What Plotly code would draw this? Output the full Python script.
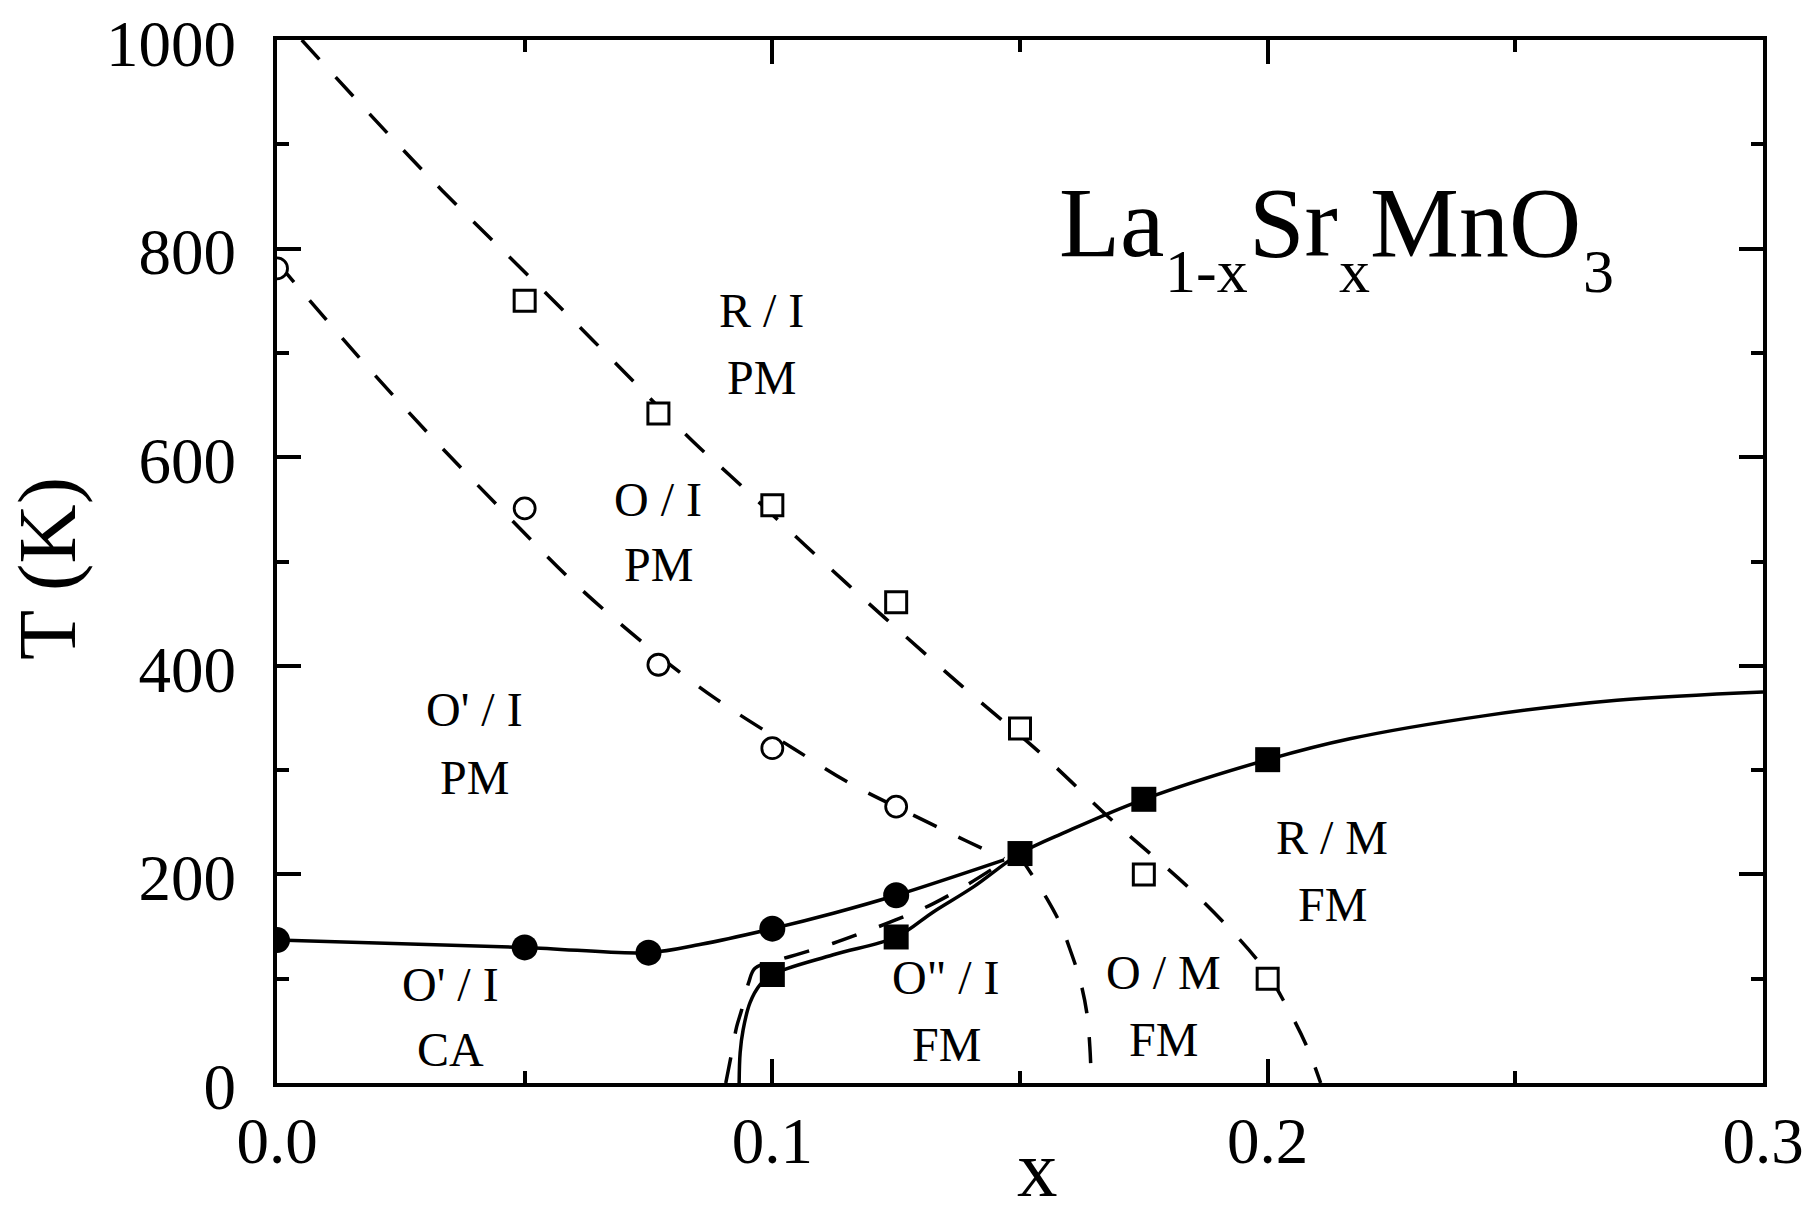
import plotly.graph_objects as go

# ---------------- data ----------------
# measured points
x_open_sq = [0.05, 0.077, 0.1, 0.125, 0.15, 0.175, 0.2]
T_open_sq = [750, 642, 554, 461, 340, 200, 100]
x_open_ci = [0.0, 0.05, 0.077, 0.1, 0.125]
T_open_ci = [781, 551, 401, 321, 265]
x_fill_ci = [0.0, 0.05, 0.075, 0.1, 0.125]
T_fill_ci = [137, 130, 125, 148, 180]
x_fill_sq = [0.1, 0.125, 0.15, 0.175, 0.2]
T_fill_sq = [104, 140, 220, 272, 310]

# phase boundaries
x_RO = [0.005, 0.0304, 0.0533, 0.0688, 0.0842, 0.0916, 0.115, 0.1384, 0.1542,
        0.169, 0.185, 0.1989, 0.204, 0.208, 0.2107]
T_RO = [1000, 870, 762, 688, 614, 582, 479, 380, 316, 250, 183, 112, 72, 34, 0]

x_OOp = [0.0, 0.0167, 0.0309, 0.0459, 0.0608, 0.077, 0.0887, 0.1045, 0.1158,
         0.1275, 0.1392, 0.1468]
T_OOp = [787, 695, 621, 547, 476, 410, 368, 320, 287, 259, 232, 215]

x_OOp_low = [0.1495, 0.1514, 0.1554, 0.1581, 0.1601, 0.1621, 0.1635, 0.1641, 0.1644]
T_OOp_low = [220, 207, 177, 153, 128, 99, 67, 35, 0]

x_CA = [0.0, 0.05, 0.075, 0.0856, 0.1, 0.1125, 0.125, 0.1468]
T_CA = [137, 130, 125, 133, 148, 163, 180, 214]

x_FM = [0.0933, 0.0935, 0.0941, 0.0955, 0.0975, 0.1, 0.1123, 0.125, 0.1325,
        0.1406, 0.15, 0.1594, 0.175, 0.2, 0.2166, 0.2436, 0.2705, 0.3]
T_FM = [0, 29, 51, 77, 94, 104, 123, 140, 164, 188, 220, 241, 272, 310, 330,
        352, 367, 375]

x_OppI = [0.0906, 0.0918, 0.0928, 0.0938, 0.0952, 0.0965, 0.1012, 0.1056,
          0.1123, 0.117, 0.1258, 0.1325, 0.1393, 0.1473]
T_OppI = [0, 29, 54, 70, 96, 110, 118, 124, 134, 142, 158, 172, 190, 214]

# region labels: (line1, line2, x_center_px, y1_px, y2_px)
region_labels = [
    ("R / I", "PM", 761, 310, 377),
    ("O / I", "PM", 658, 499, 564),
    ("O' / I", "PM", 474, 710, 777),
    ("O' / I", "CA", 450, 984, 1049),
    ('O" / I', "FM", 946, 977, 1044),
    ("O / M", "FM", 1163, 972, 1039),
    ("R / M", "FM", 1332, 837, 904),
]

x_ticks = [0.0, 0.1, 0.2, 0.3]
T_ticks = [0, 200, 400, 600, 800, 1000]

# ---------------- layout geometry ----------------
FIG_W, FIG_H = 1820, 1213
ML, MR, MT, MB = 277, 57, 40, 130
PLOT_L, PLOT_B = ML, FIG_H - MB
PW = FIG_W - ML - MR
PH = FIG_H - MT - MB
FONT = "Liberation Serif"


def px(xp):
    return (xp - PLOT_L) / PW


def py(yp):
    return (PLOT_B - yp) / PH


DASH = "26px,24px"
LW = 3.5

fig = go.Figure()


def add_line(x, y, dash=None):
    fig.add_trace(go.Scatter(
        x=x, y=y, mode="lines",
        line=dict(color="black", width=LW, shape="spline", smoothing=1,
                  dash=dash if dash else "solid"),
        hoverinfo="skip", showlegend=False))


add_line(x_RO, T_RO, DASH)
add_line(x_OOp, T_OOp, DASH)
add_line(x_OOp_low, T_OOp_low, DASH)
add_line(x_OppI, T_OppI, DASH)
add_line(x_CA, T_CA)
add_line(x_FM, T_FM)

fig.add_trace(go.Scatter(x=x_open_sq, y=T_open_sq, mode="markers",
                         marker=dict(symbol="square", size=21, color="white",
                                     line=dict(color="black", width=3)),
                         showlegend=False))
fig.add_trace(go.Scatter(x=x_open_ci, y=T_open_ci, mode="markers",
                         marker=dict(symbol="circle", size=21, color="white",
                                     line=dict(color="black", width=2.8)),
                         showlegend=False))
fig.add_trace(go.Scatter(x=x_fill_ci, y=T_fill_ci, mode="markers",
                         marker=dict(symbol="circle", size=26, color="black",
                                     line=dict(color="black", width=0)),
                         showlegend=False))
fig.add_trace(go.Scatter(x=x_fill_sq, y=T_fill_sq, mode="markers",
                         marker=dict(symbol="square", size=25, color="black",
                                     line=dict(color="black", width=0)),
                         showlegend=False))

annotations = []
for l1, l2, xc, y1, y2 in region_labels:
    for txt, yy in ((l1, y1), (l2, y2)):
        annotations.append(dict(
            text=txt, x=px(xc), y=py(yy), xref="paper", yref="paper",
            xanchor="center", yanchor="middle", showarrow=False, borderpad=0,
            font=dict(family=FONT, size=48, color="black")))

# compound formula La(1-x)Sr(x)MnO3
formula_parts = [
    ("La", 100, 1058, 223),
    ("1-x", 62, 1164, 271),
    ("Sr", 100, 1248, 223),
    ("x", 62, 1338, 271),
    ("MnO", 100, 1369, 223),
    ("3", 62, 1582, 271),
]
for txt, fs, xl, yc in formula_parts:
    annotations.append(dict(
        text=txt, x=px(xl), y=py(yc), xref="paper", yref="paper",
        xanchor="left", yanchor="middle", showarrow=False, borderpad=0,
        font=dict(family=FONT, size=fs, color="black")))

# axis titles
annotations.append(dict(text="x", x=px(1037), y=py(1169), xref="paper",
                        yref="paper", xanchor="center", yanchor="middle",
                        showarrow=False, borderpad=0,
                        font=dict(family=FONT, size=81, color="black")))
annotations.append(dict(text="T (K)", x=px(47), y=py(568), xref="paper",
                        yref="paper", xanchor="center", yanchor="middle",
                        textangle=-90, showarrow=False, borderpad=0,
                        font=dict(family=FONT, size=82, color="black")))

axis_common = dict(
    showline=True, linecolor="black", linewidth=4, mirror="allticks",
    ticks="inside", ticklen=24, tickwidth=3.5, tickcolor="black",
    showgrid=False, zeroline=False, ticklabeloverflow="allow",
    tickfont=dict(family=FONT, size=65, color="black"),
)

fig.update_layout(
    width=FIG_W, height=FIG_H,
    margin=dict(l=ML, r=MR, t=MT, b=MB, autoexpand=False),
    paper_bgcolor="white", plot_bgcolor="white",
    showlegend=False,
    annotations=annotations,
    xaxis=dict(range=[0, 0.3], tickvals=x_ticks,
               ticktext=[f"{v:.1f}" for v in x_ticks],
               ticklabelstandoff=-2,
               minor=dict(ticks="inside", ticklen=12, tickwidth=3.5,
                          tickcolor="black", dtick=0.05, showgrid=False),
               **axis_common),
    yaxis=dict(range=[0, 1000], tickvals=T_ticks,
               ticktext=[str(v) for v in T_ticks],
               ticklabelstandoff=24, ticklabelshift=3,
               minor=dict(ticks="inside", ticklen=12, tickwidth=3.5,
                          tickcolor="black", dtick=100, showgrid=False),
               **axis_common),
)

# remove the default 8px page margin so the figure fills the window exactly
fig.write_html(
    "out.html",
    config={"displayModeBar": False},
    post_script="document.body.style.margin='0';"
                "document.body.style.overflow='hidden';",
)
